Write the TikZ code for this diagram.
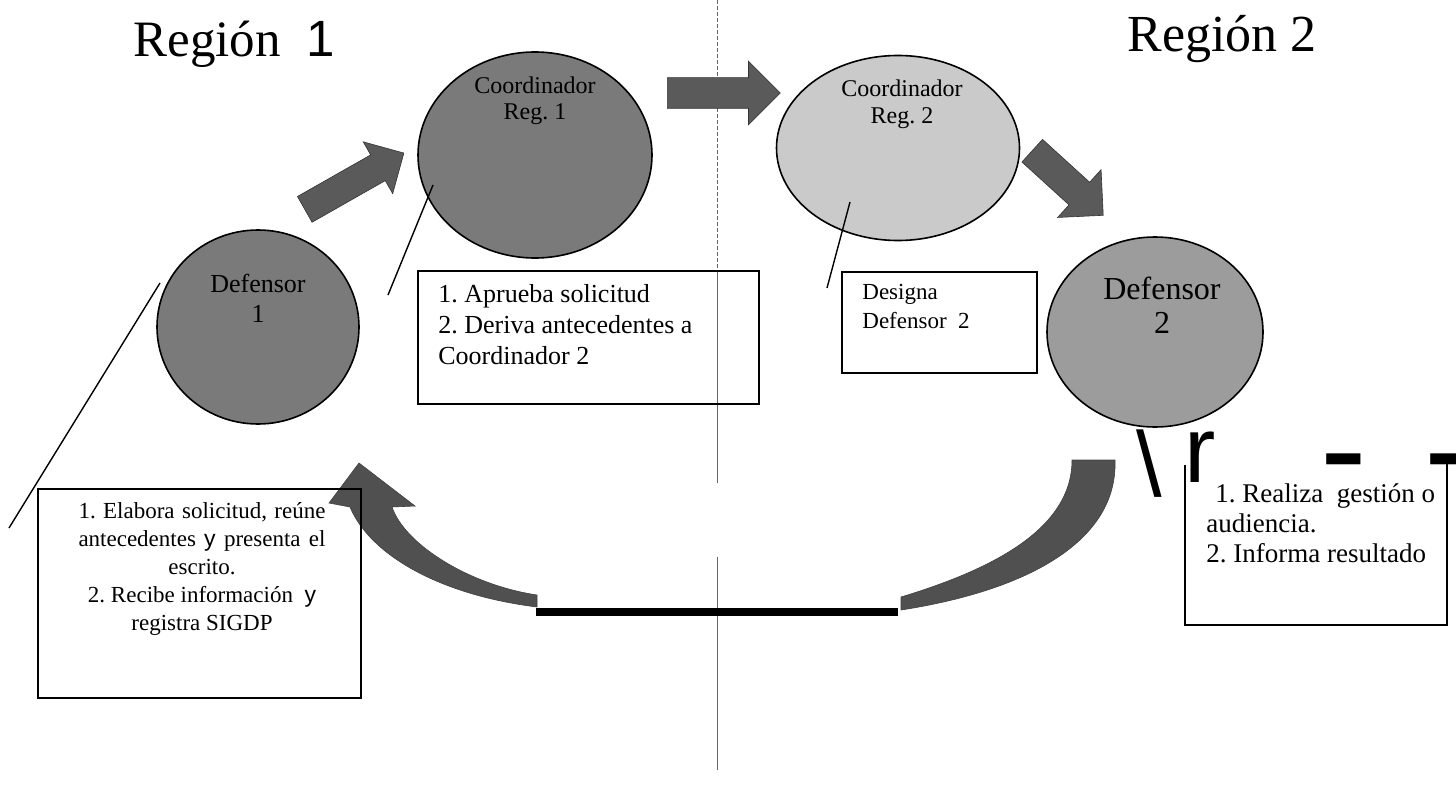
\documentclass[tikz,border=0pt]{standalone}
\usepackage{fontspec}
\setmainfont{Liberation Serif}
\newfontfamily\timesfont{Liberation Serif}
\newfontfamily\arialfont{Liberation Sans}
\usetikzlibrary{shapes.geometric,shapes.arrows}
\frenchspacing
\definecolor{darkcirc}{HTML}{7A7A7A}
\definecolor{lightcirc}{HTML}{CACACA}
\definecolor{midcirc}{HTML}{9C9C9C}
\definecolor{arrowgray}{HTML}{5A5A5A}
\definecolor{bandgray}{HTML}{505050}
\begin{document}
\begin{tikzpicture}[x=0.5pt,y=-0.5pt,
  circ/.style={ellipse,draw=black,line width=0.8pt,inner sep=0pt},
  circtext/.style={align=center,inner sep=0pt,font=\timesfont\fontsize{13}{15}\selectfont},
  boxframe/.style={draw=black,line width=0.9pt,inner sep=0pt,anchor=north west},
  boxtext/.style={inner sep=0pt,anchor=north west,align=left},
  blockarrow/.style={single arrow,fill=arrowgray,draw=black!80,line width=0.3pt,inner xsep=0pt,anchor=tail},
  leader/.style={draw=black,line width=0.7pt},
  divider/.style={draw=black!60,line width=0.4pt},
  band/.style={fill=bandgray,draw=bandgray!80!black,line width=0.3pt}
]
\useasboundingbox (0,0) rectangle (1456,797);

% titles
\node[anchor=base west,inner sep=0pt,font=\timesfont\fontsize{25.5}{30}\selectfont] (title1) at (133,57) {Región\ \ {\arialfont 1}};
\node[anchor=base west,inner sep=0pt,font=\timesfont\fontsize{26}{30}\selectfont] (title2) at (1127,52) {Región 2};

% divider
\coordinate (dv0) at (717,0);
\coordinate (dv1) at (717,270);
\coordinate (dv2) at (717,483);
\coordinate (dv3) at (717,557);
\coordinate (dv4) at (717,770);
\draw[divider,dash pattern=on 2pt off 1pt] (dv0) -- (dv1);
\draw[divider] (dv1) -- (dv2);
\draw[divider] (dv3) -- (dv4);

% circles
\node[circ,fill=darkcirc,minimum width=101pt,minimum height=97pt] (def1) at (258,327) {};
\node[circ,fill=darkcirc,minimum width=117pt,minimum height=103pt] (coord1) at (535,155) {};
\node[circ,fill=lightcirc,minimum width=121.5pt,minimum height=92.5pt] (coord2) at (898,148) {};
\node[circ,fill=midcirc,minimum width=108pt,minimum height=95pt] (def2) at (1155,332) {};

\node[circtext] (def1t) at (258,298) {Defensor\\1};
\node[circtext,font=\timesfont\fontsize{12}{13}\selectfont] (coord1t) at (535,101) {Coordinador\\Reg. 1};
\node[circtext,font=\timesfont\fontsize{12}{13.5}\selectfont] (coord2t) at (902,104) {Coordinador\\Reg. 2};
\node[circtext,font=\timesfont\fontsize{16}{17}\selectfont] (def2t) at (1162,305) {Defensor\\2};

% block arrows
\node[blockarrow,rotate=29.6,minimum height=57pt,inner ysep=7.25pt,single arrow head extend=7.5pt] (a1) at (304.5,209.5) {};
\node[blockarrow,rotate=0,minimum height=56.5pt,inner ysep=7.5pt,single arrow head extend=8.25pt] (a2) at (667,93) {};
\node[blockarrow,rotate=-42.3,minimum height=48pt,inner ysep=7.5pt,single arrow head extend=8.5pt] (a3) at (1032,150.5) {};

% return band (right part)
\coordinate (r1) at (1115,460);
\coordinate (r2) at (901,610);
\coordinate (r3) at (901,597);
\coordinate (r4) at (1072,460);
\fill[band] (r1) .. controls (1118,540) and (1030,590) .. (r2) -- (r3) .. controls (990,570) and (1072,530) .. (r4) -- cycle;

% black bar
\node[fill=black,inner sep=0pt,minimum width=181pt,minimum height=4pt,anchor=north west] (bar) at (536,608) {};

% return band (left part with arrow head)
\coordinate (h0) at (359,463);
\coordinate (h1) at (415,506);
\coordinate (h2) at (392,507);
\coordinate (h3) at (537,595);
\coordinate (h4) at (537,607);
\coordinate (h5) at (350,507);
\coordinate (h6) at (329,503);
\fill[band] (h0) -- (h1) -- (h2) .. controls (405,545) and (470,585) .. (h3) -- (h4) .. controls (440,595) and (370,555) .. (h5) -- (h6) -- cycle;

% boxes
\node[boxframe,minimum width=170.5pt,minimum height=66.5pt] (box1) at (417,270) {};
\node[boxtext,font=\timesfont\fontsize{13}{15.5}\selectfont] (box1t) at (438,284) {1.\ Aprueba solicitud\\2. Deriva antecedentes a\\Coordinador 2};

\node[boxframe,minimum width=97.5pt,minimum height=50.5pt] (box2) at (841,271) {};
\node[boxtext,font=\timesfont\fontsize{11.5}{14.5}\selectfont] (box2t) at (862,284) {Designa\\Defensor\ \ 2};

\node[boxframe,minimum width=161.5pt,minimum height=104.5pt] (box0) at (37,488) {};
\node[inner sep=0pt,anchor=north,align=center,font=\timesfont\fontsize{11.5}{14}\selectfont] (box0t) at (202,502)
  {\makebox[123.5pt][s]{1. Elabora solicitud, reúne}\\
   \makebox[123.5pt][s]{antecedentes {\arialfont y} presenta el}\\
   escrito.\\
   2. Recibe información\ \ {\arialfont y}\\
   registra SIGDP};

% box of Defensor 2 (open top)
\coordinate (b3a) at (1185,465);
\coordinate (b3b) at (1185,625);
\coordinate (b3c) at (1447,625);
\coordinate (b3d) at (1447,463);
\draw[black,line width=0.9pt] (b3a) -- (b3b) -- (b3c) -- (b3d);
\node[boxtext,font=\timesfont\fontsize{13.5}{15}\selectfont] (box3t) at (1206,483) {\hspace*{4.5pt}1. Realiza\ \ gestión o\\audiencia.\\2. Informa resultado};

% stray glyphs
\node[anchor=base west,inner sep=0pt,font=\arialfont\fontsize{46}{50}\selectfont] (bs) at (1136,496) {\textbackslash};
\node[anchor=base west,inner sep=0pt,font=\arialfont\fontsize{47}{50}\selectfont] (rr) at (1184,482) {r};
\node[anchor=base west,inner sep=0pt,font=\arialfont\fontsize{70}{70}\selectfont] (d1) at (1320,496) {-};
\node[anchor=base west,inner sep=0pt,font=\arialfont\fontsize{70}{70}\selectfont] (d2) at (1424,496) {-};

% leader lines
\coordinate (l1a) at (160,283);
\coordinate (l1b) at (9,528);
\coordinate (l2a) at (433,185);
\coordinate (l2b) at (388,295);
\coordinate (l3a) at (850,202);
\coordinate (l3b) at (827,288);
\draw[leader] (l1a) -- (l1b);
\draw[leader] (l2a) -- (l2b);
\draw[leader] (l3a) -- (l3b);
\end{tikzpicture}
\end{document}
